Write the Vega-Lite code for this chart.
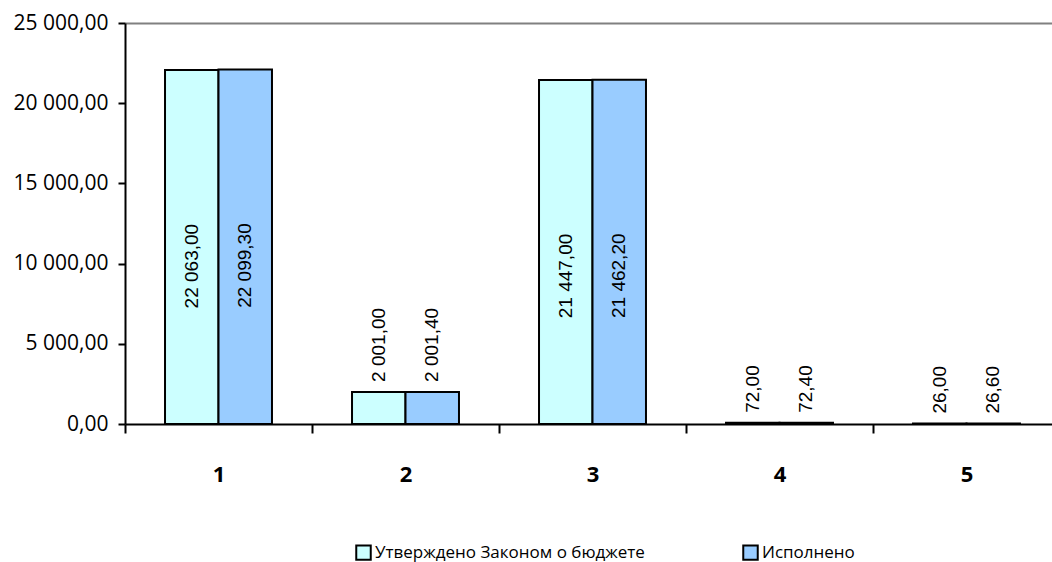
{
  "$schema": "https://vega.github.io/schema/vega-lite/v6.json",
  "autosize": "none",
  "width": 935,
  "height": 401,
  "padding": {"left": 125, "top": 23, "right": 0, "bottom": 138},
  "background": "white",
  "config": {
    "view": {"stroke": null},
    "locale": {"number": {"decimal": ",", "thousands": " ", "grouping": [3], "currency": ["", ""]}},
    "font": "Open Sans"
  },
  "data": {
    "values": [
      {"cat": "1", "series": "Утверждено Законом о бюджете", "value": 22063.0},
      {"cat": "1", "series": "Исполнено", "value": 22099.3},
      {"cat": "2", "series": "Утверждено Законом о бюджете", "value": 2001.0},
      {"cat": "2", "series": "Исполнено", "value": 2001.4},
      {"cat": "3", "series": "Утверждено Законом о бюджете", "value": 21447.0},
      {"cat": "3", "series": "Исполнено", "value": 21462.2},
      {"cat": "4", "series": "Утверждено Законом о бюджете", "value": 72.0},
      {"cat": "4", "series": "Исполнено", "value": 72.4},
      {"cat": "5", "series": "Утверждено Законом о бюджете", "value": 26.0},
      {"cat": "5", "series": "Исполнено", "value": 26.6}
    ]
  },
  "encoding": {
    "x": {
      "field": "cat", "type": "nominal",
      "scale": {"paddingInner": 0.428, "paddingOuter": 0.214},
      "axis": {
        "title": null, "labelAngle": 0, "domainColor": "black", "domainWidth": 2,
        "tickColor": "black", "tickWidth": 2, "tickSize": 9, "tickOffset": -93.5, "labelOffset": 93.5,
        "labelFont": "Open Sans", "labelFontWeight": "bold", "labelFontSize": 22,
        "labelColor": "black", "labelPadding": 41, "labelBaseline": "middle"
      }
    },
    "xOffset": {"field": "series", "type": "nominal", "sort": ["Утверждено Законом о бюджете", "Исполнено"], "scale": {"paddingInner": 0, "paddingOuter": 0}},
    "y": {
      "field": "value", "type": "quantitative",
      "scale": {"domain": [0, 25000], "nice": false},
      "axis": {
        "title": null, "values": [0, 5000, 10000, 15000, 20000, 25000], "format": ",.2f",
        "domainColor": "black", "domainWidth": 2, "tickColor": "black", "tickWidth": 2, "tickSize": 7,
        "labelFont": "Open Sans", "labelFontSize": 21, "labelColor": "black", "labelPadding": 10,
        "grid": true, "gridWidth": 2,
        "gridColor": {"condition": {"test": "datum.value === 25000", "value": "#808080"}, "value": "transparent"}
      }
    }
  },
  "layer": [
    {
      "mark": {"type": "bar", "stroke": "black", "strokeWidth": 2},
      "encoding": {
        "color": {
          "field": "series", "type": "nominal",
          "sort": ["Утверждено Законом о бюджете", "Исполнено"],
          "scale": {"domain": ["Утверждено Законом о бюджете", "Исполнено"], "range": ["#CCFFFF", "#99CCFF"]},
          "legend": {
            "title": null, "orient": "none", "direction": "horizontal",
            "legendX": 230, "legendY": 521,
            "symbolType": "square", "symbolSize": 210, "symbolStrokeColor": "black", "symbolStrokeWidth": 2,
            "symbolOpacity": 1,
            "labelFont": "Open Sans", "labelFontSize": 17, "labelColor": "black", "labelOffset": 3,
            "columnPadding": 94, "labelLimit": 400
          }
        }
      }
    },
    {
      "transform": [{"filter": "datum.value > 10000"}],
      "mark": {"type": "text", "angle": 270, "align": "center", "baseline": "middle", "dx": -196, "font": "Liberation Sans", "fontSize": 19, "color": "black"},
      "encoding": {"text": {"field": "value", "type": "quantitative", "format": ",.2f"}}
    },
    {
      "transform": [{"filter": "datum.value <= 10000"}],
      "mark": {"type": "text", "angle": 270, "align": "left", "baseline": "middle", "dx": 10, "font": "Liberation Sans", "fontSize": 19, "color": "black"},
      "encoding": {"text": {"field": "value", "type": "quantitative", "format": ",.2f"}}
    }
  ]
}
